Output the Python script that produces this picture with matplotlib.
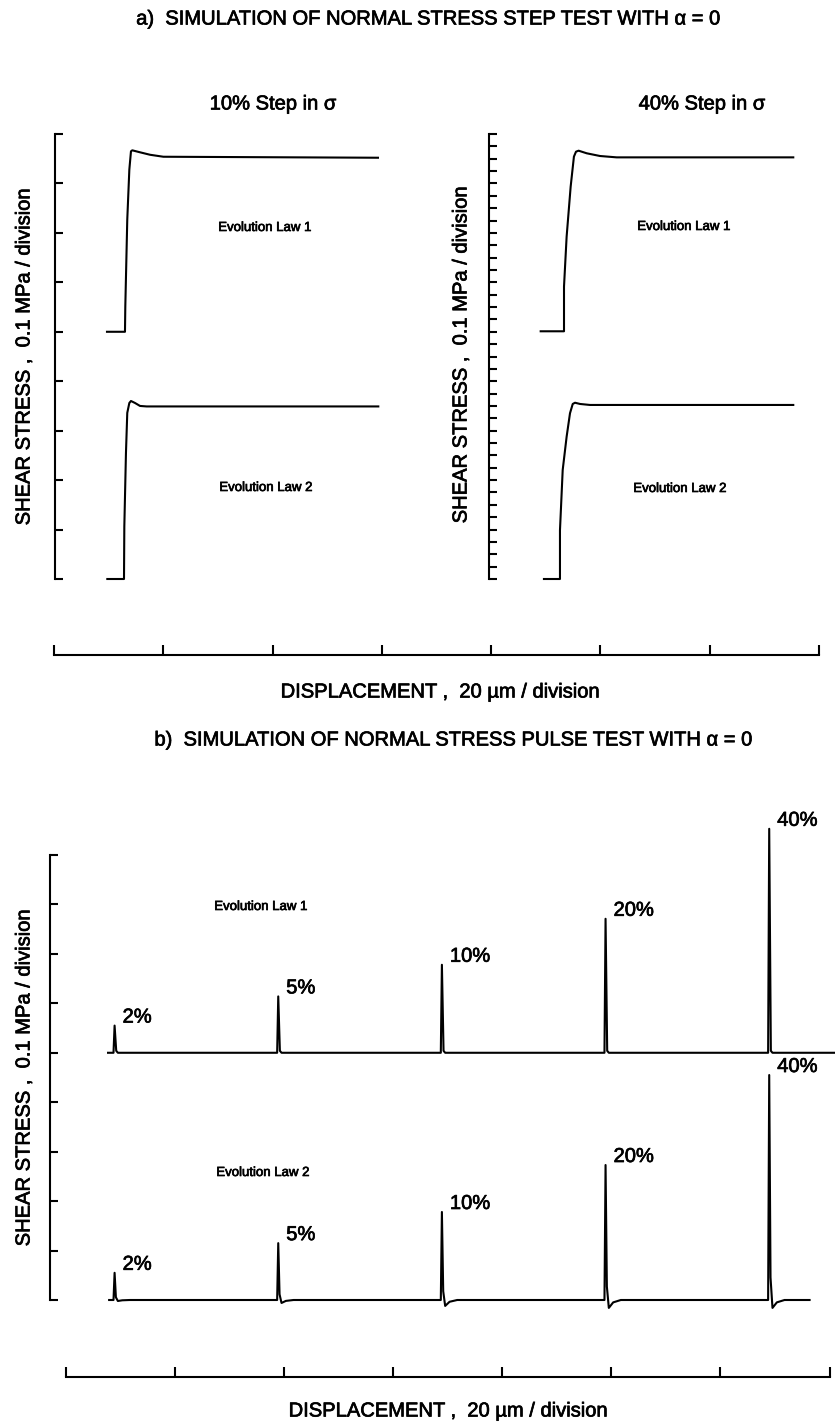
import numpy as np
import matplotlib.pyplot as plt
import matplotlib.patheffects as pe

W, H = 835, 1422
plt.rcParams['font.family'] = ['Liberation Sans', 'DejaVu Sans']
LW = 1.5

# ---- a) step test: x in 20 um divisions, y in 0.1 MPa divisions ----
# 10% step (left scale 0..9)
s10_law1_x = [0.477, 0.642, 0.645, 0.663, 0.682, 0.697, 0.709, 0.780, 0.872, 0.994, 2.963]
s10_law1_y = [5.0, 5.0, 5.51, 7.27, 8.28, 8.65, 8.67, 8.63, 8.58, 8.54, 8.52]
s10_law2_x = [0.480, 0.633, 0.636, 0.651, 0.663, 0.682, 0.697, 0.734, 0.780, 0.841, 2.966]
s10_law2_y = [0.0, 0.0, 1.06, 2.55, 3.36, 3.56, 3.60, 3.56, 3.50, 3.49, 3.49]

# 40% step (right scale 0..36)
s40_law1_x = [4.456, 4.670, 4.670, 4.694, 4.731, 4.761, 4.780, 4.804, 4.878, 5.000, 5.153, 6.773]
s40_law1_y = [20.04, 20.04, 23.65, 27.69, 31.74, 34.17, 34.57, 34.65, 34.44, 34.22, 34.11, 34.11]
s40_law2_x = [4.486, 4.633, 4.633, 4.658, 4.694, 4.725, 4.750, 4.771, 4.817, 4.908, 6.773]
s40_law2_y = [0.0, 0.0, 3.94, 8.82, 11.51, 13.41, 14.16, 14.26, 14.16, 14.08, 14.08]

# ---- b) pulse test ----
pulse_labels = ['2%', '5%', '10%', '20%', '40%']
pulse_x = [0.45, 1.95, 3.45, 4.95, 6.45]
pulse_h_law1 = [0.55, 1.14, 1.78, 2.71, 4.53]
pulse_h_law2 = [0.55, 1.15, 1.78, 2.73, 4.55]
pulse_dip_law2 = [0.02, 0.06, 0.12, 0.16, 0.16]
law1_base, law2_base = 5.0, 0.0
law1_span = (0.39, 7.05)
law2_span = (0.40, 6.82)

ink = [pe.withStroke(linewidth=0.5, foreground='black')]


def rect(x0, y_top, x1, y_bot):
    return [x0 / W, 1 - y_bot / H, (x1 - x0) / W, (y_bot - y_top) / H]


def fpos(x, y):
    return x / W, 1 - y / H


def label(x, y, s, size=14.5, **kw):
    fig.text(*fpos(x, y), s, ha='center', va='center', fontsize=size,
             path_effects=ink, **kw)


def yaxis_only(ax, ticks):
    for s in ['top', 'right', 'bottom']:
        ax.spines[s].set_visible(False)
    ax.spines['left'].set_linewidth(LW)
    ax.set_yticks(ticks)
    ax.set_xticks([])
    ax.tick_params(axis='y', direction='in', length=5.8, width=LW, labelleft=False)
    ax.patch.set_visible(False)


def xaxis_only(ax):
    for s in ['top', 'right', 'left']:
        ax.spines[s].set_visible(False)
    ax.spines['bottom'].set_linewidth(LW)
    ax.set_xlim(0, 7)
    ax.set_xticks(range(8))
    ax.set_yticks([])
    ax.tick_params(axis='x', direction='in', length=7.2, width=LW, labelbottom=False)
    ax.patch.set_visible(False)


def pulse_trace(base, span, heights, dips=None):
    xs, ys = [span[0]], [base]
    for i, (px, h) in enumerate(zip(pulse_x, heights)):
        if dips is None:
            xs += [px - 0.01, px, px + 0.015, px + 0.03]
            ys += [base, base + h, base + 0.04, base]
        else:
            # law 2 undershoots the baseline after each pulse
            xs += [px - 0.01, px, px + 0.012, px + 0.03, px + 0.07, px + 0.14]
            ys += [base, base + h, base + 0.1 * h, base - dips[i],
                   base - 0.3 * dips[i], base]
    xs.append(span[1])
    ys.append(base)
    return np.array(xs), np.array(ys)


fig = plt.figure(figsize=(W / 100, H / 100), dpi=100)

# part a, left panel
ax1 = fig.add_axes(rect(55, 134, 491, 579))
ax1.set_xlim(0, 4)
ax1.set_ylim(0, 9)
yaxis_only(ax1, range(10))
ax1.plot(s10_law1_x, s10_law1_y, color='black', lw=LW, clip_on=False)
ax1.plot(s10_law2_x, s10_law2_y, color='black', lw=LW, clip_on=False)

# part a, right panel
ax2 = fig.add_axes(rect(489, 134, 819, 579))
ax2.set_xlim(3.982, 7.009)
ax2.set_ylim(0, 36)
yaxis_only(ax2, range(37))
ax2.plot(s40_law1_x, s40_law1_y, color='black', lw=LW, clip_on=False)
ax2.plot(s40_law2_x, s40_law2_y, color='black', lw=LW, clip_on=False)

# part a, displacement axis
axa = fig.add_axes(rect(54, 625, 819, 655))
xaxis_only(axa)

# part b
axb = fig.add_axes(rect(50, 855, 835, 1300))
axb.set_xlim(-0.142, 7.053)
axb.set_ylim(0, 9)
yaxis_only(axb, range(10))
for base, span, hts, dips in [(law1_base, law1_span, pulse_h_law1, None),
                              (law2_base, law2_span, pulse_h_law2, pulse_dip_law2)]:
    tx, ty = pulse_trace(base, span, hts, dips)
    axb.plot(tx, ty, color='black', lw=LW, clip_on=False)
    for lab, px, h in zip(pulse_labels, pulse_x, hts):
        axb.annotate(lab, (px, base + h), xytext=(8, 3), textcoords='offset pixels',
                     ha='left', va='baseline', fontsize=14.5, annotation_clip=False,
                     path_effects=ink)

axbx = fig.add_axes(rect(65.5, 1347, 829.6, 1377))
xaxis_only(axbx)

# texts
label(428, 19, 'a)  SIMULATION OF NORMAL STRESS STEP TEST WITH α = 0')
label(273, 104, '10% Step in σ')
label(702, 104, '40% Step in σ')
ylab = 'SHEAR STRESS ,  0.1 MPa / division'
label(24, 357, ylab, rotation=90)
label(461, 355, ylab, rotation=90)
label(24, 1078, ylab, rotation=90)
label(265, 228, 'Evolution Law 1', size=9.5)
label(266, 488, 'Evolution Law 2', size=9.5)
label(684, 227, 'Evolution Law 1', size=9.5)
label(680, 489, 'Evolution Law 2', size=9.5)
label(261, 907, 'Evolution Law 1', size=9.5)
label(263, 1173, 'Evolution Law 2', size=9.5)
xlab = 'DISPLACEMENT ,  20 µm / division'
label(440, 692, xlab)
label(453, 740, 'b)  SIMULATION OF NORMAL STRESS PULSE TEST WITH α = 0')
label(448, 1411, xlab)

fig.savefig('out.png', dpi=100)
